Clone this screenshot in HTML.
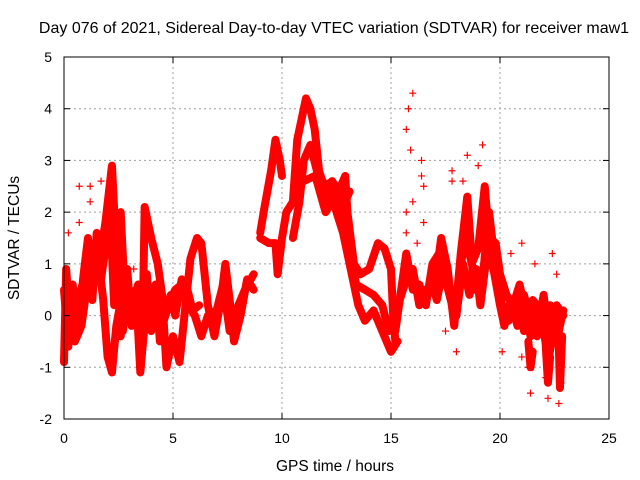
<!DOCTYPE html>
<html><head><meta charset="utf-8"><style>
body{margin:0;background:#fff}
svg{display:block;font-family:"Liberation Sans",sans-serif}
</style></head><body>
<svg id="chart" width="640" height="480" xmlns="http://www.w3.org/2000/svg">
<rect width="640" height="480" fill="#fff"/>
<text x="334" y="33" text-anchor="middle" font-size="16">Day 076 of 2021, Sidereal Day-to-day VTEC variation (SDTVAR) for receiver maw1</text>
<g id="grid"></g>
<g id="marks"></g>
<rect x="64" y="57" width="545" height="362" fill="none" stroke="#000" stroke-width="1"/>
<g id="ticks"></g>
<text x="335" y="471" text-anchor="middle" font-size="15.5">GPS time / hours</text>
<text transform="translate(19,238) rotate(-90)" text-anchor="middle" font-size="15.5">SDTVAR / TECUs</text>
</svg>
<script>
const xTicks=[0,5,10,15,20,25];
const yTicks=[-2,-1,0,1,2,3,4,5];
const trackA=[[0,-0.9],[0.1,0.9],[0.3,-0.3],[0.5,-0.5],[0.8,-0.2],[1.0,0.4],[1.3,1.2],[1.6,1.0],[1.9,1.8],[2.2,2.9],[2.4,1.2],[2.6,2.0],[2.8,0.3],[3.1,0.1],[3.4,0.6],[3.6,-0.4],[3.7,2.1],[4.0,1.5],[4.3,1.0],[4.5,0.4],[4.7,-1.0],[5.0,-0.4],[5.3,-0.9],[5.6,0.3],[5.8,1.1],[6.1,1.5],[6.3,1.4],[6.6,0.2],[6.9,-0.4],[7.2,0.3],[7.4,1.0],[7.6,0.3],[7.8,-0.5],[8.1,0.0],[8.4,0.7],[8.7,0.5]];
const trackA2=[[0.2,0.2],[0.6,0.3],[1.1,0.9],[1.5,1.4],[1.8,0.3],[2.0,-0.8],[2.2,-1.1],[2.4,-0.2],[2.7,0.5],[3.0,0.0],[3.3,0.5],[3.5,-1.1],[3.8,0.3],[4.2,0.5],[4.5,-0.2],[4.8,0.2],[5.1,0.5],[5.4,0.6],[5.7,0.2],[6.0,0.0],[6.3,-0.4],[6.6,0.0],[7.0,0.1],[7.3,0.6],[7.6,-0.3],[8.0,0.2],[8.3,0.5],[8.7,0.8]];
const trackG=[[0.0,0.5],[0.2,-0.6],[0.4,0.6],[0.6,-0.4],[0.9,0.8],[1.1,1.5],[1.3,0.3],[1.5,1.6],[1.7,0.7],[1.9,1.3],[2.1,2.2],[2.3,0.2],[2.5,1.3],[2.7,-0.3],[2.9,0.6]];
const trackH=[[2.6,-0.4],[2.9,0.9],[3.1,-0.2],[3.3,0.4],[3.5,0.2],[3.8,0.8],[4.0,-0.3],[4.2,0.6],[4.4,-0.5],[4.6,0.0],[4.9,0.4],[5.1,0.0],[5.4,0.7],[5.6,0.6],[5.9,0.1],[6.2,0.2]];
const trackB=[[9.0,1.6],[9.2,2.1],[9.5,2.8],[9.7,3.4],[9.9,3.0],[10.0,2.7]];
const trackC=[[9.0,1.5],[9.4,1.4],[9.7,1.4],[9.8,0.8],[10.0,1.5],[10.2,2.0],[10.5,2.2],[10.7,3.4],[10.9,3.8],[11.1,4.2],[11.3,4.0],[11.5,3.6],[11.7,2.8],[12.0,2.4],[12.3,2.3],[12.5,2.0],[12.8,1.6],[13.1,1.0],[13.5,0.2],[13.8,-0.1],[14.2,0.1],[14.5,-0.2],[14.8,-0.5],[15.0,-0.7],[15.3,-0.5]];
const trackD=[[10.5,1.5],[10.8,2.2],[11.0,3.0],[11.3,3.3],[11.6,2.8],[12.0,2.5],[12.3,2.6],[12.6,2.4],[12.9,2.7],[13.0,2.0],[13.3,1.0],[13.6,0.8],[14.0,0.9],[14.4,1.4],[14.7,1.3],[15.0,0.9],[15.1,0.0],[15.2,-0.5]];
const trackE=[[11.0,2.6],[11.5,2.7],[12.0,2.2],[12.4,2.5],[12.7,2.3],[13.0,1.5],[13.4,0.6],[13.8,0.5],[14.2,0.4],[14.6,0.2],[14.9,-0.3]];
const trackE2=[[11.6,2.6],[12.0,2.0],[12.4,2.3],[12.8,2.1],[13.1,2.4]];
const trackF=[[15.2,-0.3],[15.5,0.6],[15.7,1.2],[16.0,0.5],[16.3,0.6],[16.6,0.2],[16.9,1.0],[17.2,1.2],[17.5,0.7],[17.8,0.2],[18.1,0.6],[18.4,1.6],[18.7,1.0],[19.0,1.3],[19.3,2.5],[19.5,1.5],[19.8,1.4],[20.0,0.8],[20.3,0.4],[20.6,0.2],[20.9,0.6],[21.2,0.0],[21.4,-0.4],[21.7,0.2],[22.0,-0.2],[22.3,0.2],[22.6,-0.5],[22.9,0.1]];
const trackF2=[[17.0,0.5],[17.3,1.5],[17.6,0.9],[17.9,-0.2],[18.2,1.2],[18.5,2.3],[18.8,0.5],[19.2,0.7],[19.5,2.0],[19.8,0.9],[20.1,0.2],[20.4,-0.1],[20.8,0.3],[21.1,-0.3],[21.5,0.3],[21.9,0.1],[22.2,-0.9],[22.5,-0.2],[22.8,-0.8]];
const trackI=[[15.4,0.3],[15.7,0.7],[16.0,0.9],[16.3,0.2],[16.6,0.5],[16.9,0.6],[17.1,0.3],[17.4,0.9],[17.7,0.5],[18.0,0.0],[18.3,1.0],[18.6,0.4],[18.9,0.9],[19.1,0.2],[19.4,1.2],[19.7,0.9],[20.0,0.2],[20.2,-0.2],[20.5,0.3],[20.8,-0.2],[21.1,0.4],[21.4,-0.1],[21.7,-0.4],[22.0,0.4],[22.3,-0.6],[22.6,0.2],[22.9,0.0]];
const trackJ=[[21.3,-0.5],[21.4,-1.0],[21.5,-0.7]];
const trackK=[[22.1,-0.6],[22.2,-1.3],[22.3,-0.8]];
const trackL=[[22.7,-0.6],[22.75,-1.4],[22.85,-0.4]];
const outliers=[[16.0,4.3],[15.8,4.0],[15.7,3.6],[15.9,3.2],[16.4,3.0],[16.5,2.5],[16.0,2.2],[16.5,1.8],[15.7,2.0],[16.2,1.4],[16.4,2.7],[15.7,1.6],[18.5,3.1],[19.2,3.3],[19.0,2.9],[17.8,2.8],[17.8,2.6],[18.3,2.6],[21.3,-1.0],[21.4,-1.5],[22.1,-1.2],[22.2,-1.6],[22.7,-1.7],[22.8,-1.3],[0.7,2.5],[1.2,2.5],[1.2,2.2],[0.7,1.8],[0.2,1.6],[1.7,2.6],[20.5,1.2],[21.6,1.0],[22.4,1.2],[22.6,0.8],[20.1,-0.7],[21.0,-0.8],[3.2,0.9],[21.0,1.4],[17.5,-0.3],[18.0,-0.7]];
const series=[trackA,trackA2,trackG,trackH,trackB,trackC,trackD,trackE,trackE2,trackF,trackF2,trackI,trackJ,trackK,trackL];
const X0=64,X1=609,Y0=419,Y1=57;
const xs=v=>X0+(v-0)/(25-0)*(X1-X0);
const ys=v=>Y0-(v+2)/7*(Y0-Y1);
const NS="http://www.w3.org/2000/svg";
const grid=document.getElementById('grid'),ticks=document.getElementById('ticks'),marks=document.getElementById('marks');
function mk(t,a,p){const e=document.createElementNS(NS,t);for(const k in a)e.setAttribute(k,a[k]);p.appendChild(e);return e;}
xTicks.forEach(t=>{const x=xs(t);
 if(t>0&&t<25){const g=mk('line',{x1:x,x2:x,y1:Y1,y2:Y0,stroke:'#a0a0a0','stroke-dasharray':'2,3'},grid);
 
 }
 const l=mk('text',{x:x,y:443,'text-anchor':'middle','font-size':'14'},ticks);l.textContent=t;
 
 
 mk('line',{x1:x,x2:x,y1:Y0,y2:Y0-6,stroke:'#000'},ticks);mk('line',{x1:x,x2:x,y1:Y1,y2:Y1+6,stroke:'#000'},ticks);});
yTicks.forEach(t=>{const y=ys(t);
 if(t>-2&&t<5){const g=mk('line',{x1:X0,x2:X1,y1:y,y2:y,stroke:'#a0a0a0','stroke-dasharray':'2,3'},grid);
 
 }
 const l=mk('text',{x:52,y:y+5,'text-anchor':'end','font-size':'14'},ticks);l.textContent=t;
 
 
 mk('line',{x1:X0,x2:X0+6,y1:y,y2:y,stroke:'#000'},ticks);mk('line',{x1:X1,x2:X1-6,y1:y,y2:y,stroke:'#000'},ticks);});
function plus(x,y){const p=mk('path',{d:`M${x-3.5},${y}h7M${x},${y-3.5}v7`,stroke:'#f00','stroke-width':1.2},marks);
 
 }
series.forEach(s=>{
 const pl=mk('polyline',{points:s.map(p=>xs(p[0])+','+ys(p[1])).join(' '),fill:'none',stroke:'#f00','stroke-width':8,'stroke-linejoin':'round','stroke-linecap':'round'},marks);
 
 
 s.forEach(p=>plus(xs(p[0]),ys(p[1])));
});
outliers.forEach(p=>plus(xs(p[0]),ys(p[1])));
</script>
</body></html>
